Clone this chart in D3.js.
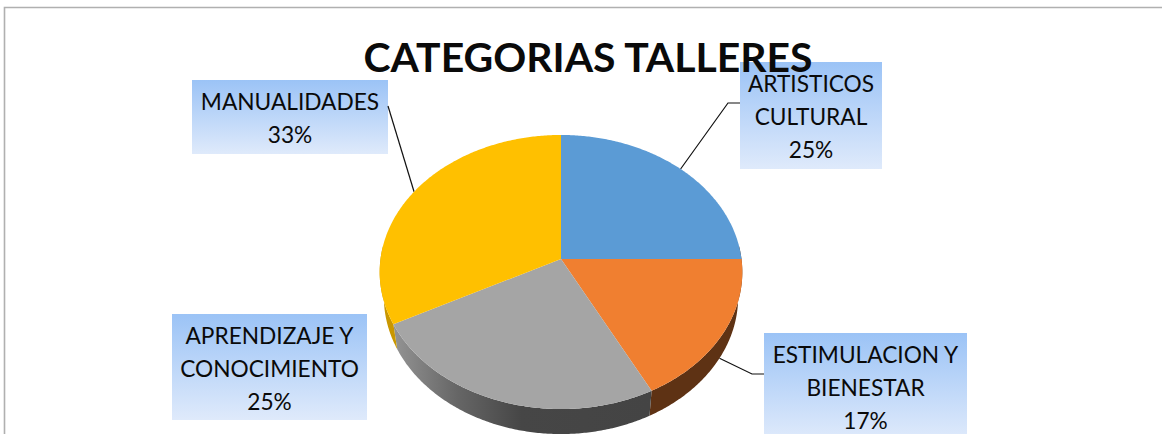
<!DOCTYPE html>
<html>
<head>
<meta charset="utf-8">
<script src="https://cdn.jsdelivr.net/npm/d3@7"></script>
<style>
  html, body { margin: 0; padding: 0; background: #fff; overflow: hidden; }
  text { font-family: Lato, "Open Sans", sans-serif; fill: #0a0a0a; }
</style>
</head>
<body>
<svg id="chart" width="1162" height="434"></svg>
<script>
const title = "CATEGORIAS TALLERES";
const categories = ["ARTISTICOS CULTURAL", "ESTIMULACION Y BIENESTAR", "APRENDIZAJE Y CONOCIMIENTO", "MANUALIDADES"];
const values = [25, 17.4, 25, 32.6];
const labelLines = [["ARTISTICOS", "CULTURAL"], ["ESTIMULACION Y", "BIENESTAR"], ["APRENDIZAJE Y", "CONOCIMIENTO"], ["MANUALIDADES"]];
const colors = ["#5b9bd5", "#f07f30", "#a5a5a5", "#ffc000"];

// layout of the label boxes, same order as categories
const boxes = [
  {x: 740, y: 62, w: 142, h: 107},
  {x: 764, y: 333, w: 203, h: 106},
  {x: 172, y: 314, w: 195, h: 106},
  {x: 192, y: 80, w: 196, h: 74}
];

const svg = d3.select("#chart");
const width = 1162, height = 434;

// tilted disc: u is depth (+1 front), v is sideways, persp makes the front bigger
const cx = 561, cy = 259, R = 180.5, K = 135.8, persp = 0.095;
const depth = 25, shrink = 0.977;

function project(a, drop) {
  const u = -Math.cos(a), v = Math.sin(a);
  const w = 1 - persp * u;
  const s = drop ? shrink : 1;
  return [cx + s * R * v / w, cy + K * u / w + (drop ? depth : 0)];
}

function ring(a0, a1, drop) {
  const n = Math.max(2, Math.ceil((a1 - a0) / 0.01));
  return d3.range(n + 1).map(i => project(a0 + (a1 - a0) * i / n, drop));
}

const line = d3.line();
const slices = d3.pie().sort(null).value(d => d)(values);
const defs = svg.append("defs");

const boxGrad = defs.append("linearGradient").attr("id", "boxGrad").attr("x1", 0).attr("y1", 0).attr("x2", 0).attr("y2", 1);
boxGrad.append("stop").attr("offset", "0%").attr("stop-color", "#9bc3f6");
boxGrad.append("stop").attr("offset", "100%").attr("stop-color", "#dfeafb");

const grayWall = defs.append("linearGradient").attr("id", "grayWall").attr("gradientUnits", "userSpaceOnUse")
  .attr("x1", 393).attr("y1", 0).attr("x2", 650).attr("y2", 0);
grayWall.append("stop").attr("offset", "0%").attr("stop-color", "#949494");
grayWall.append("stop").attr("offset", "25%").attr("stop-color", "#666666");
grayWall.append("stop").attr("offset", "50%").attr("stop-color", "#464646");
grayWall.append("stop").attr("offset", "100%").attr("stop-color", "#444444");

const wallFill = ["#5e3214", "#5e3214", "url(#grayWall)", "#c99700"];

// frame
svg.append("path").attr("d", "M4.5," + height + "V7.5H" + width)
  .attr("fill", "none").attr("stroke", "#b0b0b0").attr("stroke-width", 1.6);

// label boxes
svg.selectAll(".box").data(boxes).enter().append("rect").attr("class", "box")
  .attr("x", d => d.x).attr("y", d => d.y).attr("width", d => d.w).attr("height", d => d.h)
  .attr("fill", "url(#boxGrad)");

// leader lines go behind the pie
const mid = d => (d.startAngle + d.endAngle) / 2;
const leaders = [
  [[740, 103], [728, 103], project(mid(slices[0]), false)],
  [[764, 374], [752, 374], project(mid(slices[1]), true)],
  null,
  [[388, 106], project(mid(slices[3]), false)]
];
svg.selectAll(".leader").data(leaders.filter(d => d)).enter().append("path").attr("class", "leader")
  .attr("d", d => line(d)).attr("fill", "none").attr("stroke", "#111").attr("stroke-width", 1.2);

// side wall, only the part facing the viewer
const front0 = Math.PI * 0.47, front1 = Math.PI * 1.53;
slices.forEach((s, i) => {
  const a0 = Math.max(s.startAngle, front0), a1 = Math.min(s.endAngle, front1);
  if (a1 <= a0) return;
  svg.append("path").attr("class", "wall")
    .attr("d", line(ring(a0, a1, false).concat(ring(a0, a1, true).reverse())) + "Z")
    .attr("fill", wallFill[i]);
});

// top faces
svg.selectAll(".slice").data(slices).enter().append("path").attr("class", "slice")
  .attr("d", d => line([[cx, cy]].concat(ring(d.startAngle, d.endAngle, false))) + "Z")
  .attr("fill", (d, i) => colors[i]);

// label text
const lineH = 33;
boxes.forEach((b, i) => {
  const rows = labelLines[i].concat([Math.round(values[i]) + "%"]);
  svg.append("text").attr("text-anchor", "middle").attr("font-size", 22.7)
    .selectAll("tspan").data(rows).enter().append("tspan")
    .attr("x", b.x + b.w / 2).attr("y", (d, j) => b.y + 30 + j * lineH).text(d => d);
});

svg.append("text").attr("x", 588).attr("y", 72).attr("text-anchor", "middle")
  .attr("font-size", 40.9).attr("font-weight", 700).text(title);
</script>
</body>
</html>
